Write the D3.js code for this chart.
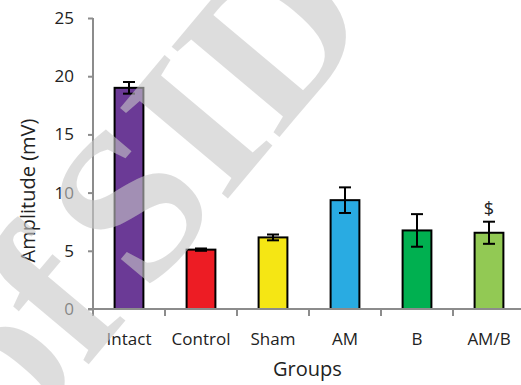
<!DOCTYPE html>
<html>
<head>
<meta charset="utf-8">
<script src="https://cdn.jsdelivr.net/npm/d3@7"></script>
<style>
  body { margin: 0; background: #fff; }
  text { font-family: "Open Sans", "Liberation Sans", sans-serif; fill: #222; }
</style>
</head>
<body>
<div id="chart"></div>
<script>
// chart data
const groups = ['Intact', 'Control', 'Sham', 'AM', 'B', 'AM/B']
const amplitude = [19.0, 5.1, 6.15, 9.35, 6.75, 6.55]
const errors = [0.5, 0.1, 0.25, 1.1, 1.4, 0.95]
const colors = ['#6b3a96', '#ed1c24', '#f5e614', '#29abe2', '#00b050', '#92c954']
const marks = ['', '', '', '', '', '$']
const yTicks = [0, 5, 10, 15, 20, 25]

const width = 521
const height = 385
const margin = { top: 18, right: -4, bottom: 76, left: 93 }

const svg = d3.select('#chart')
  .append('svg')
  .attr('width', width)
  .attr('height', height)

const g = svg.append('g')
  .attr('transform', 'translate(' + margin.left + ',' + margin.top + ')')

const innerW = width - margin.left - margin.right
const innerH = height - margin.top - margin.bottom

const x = d3.scaleBand()
  .domain(groups)
  .range([0, innerW])
  .paddingInner(0.6)
  .paddingOuter(0.3)

const y = d3.scaleLinear()
  .domain([0, 25])
  .range([innerH, 0])

// bars
g.selectAll('rect.bar')
  .data(groups)
  .join('rect')
  .attr('class', 'bar')
  .attr('x', d => x(d))
  .attr('width', x.bandwidth())
  .attr('y', (d, i) => y(amplitude[i]))
  .attr('height', (d, i) => y(0) - y(amplitude[i]))
  .attr('fill', (d, i) => colors[i])
  .attr('stroke', '#000')
  .attr('stroke-width', 2)

// error bars
const eb = g.selectAll('g.err')
  .data(groups)
  .join('g')
  .attr('class', 'err')
  .attr('transform', d => 'translate(' + (x(d) + x.bandwidth() / 2) + ',0)')

eb.append('line')
  .attr('y1', (d, i) => y(amplitude[i] + errors[i]))
  .attr('y2', (d, i) => y(amplitude[i] - errors[i]))
  .attr('stroke', '#000')
  .attr('stroke-width', 2)

eb.append('line')
  .attr('x1', -6).attr('x2', 6)
  .attr('y1', (d, i) => y(amplitude[i] + errors[i]))
  .attr('y2', (d, i) => y(amplitude[i] + errors[i]))
  .attr('stroke', '#000')
  .attr('stroke-width', 2)

eb.append('line')
  .attr('x1', -6).attr('x2', 6)
  .attr('y1', (d, i) => y(amplitude[i] - errors[i]))
  .attr('y2', (d, i) => y(amplitude[i] - errors[i]))
  .attr('stroke', '#000')
  .attr('stroke-width', 2)

eb.append('text')
  .text((d, i) => marks[i])
  .attr('y', (d, i) => y(amplitude[i] + errors[i]) - 7)
  .attr('text-anchor', 'middle')
  .style('font-size', '18px')

// y axis
g.append('g')
  .attr('class', 'y axis')
  .call(d3.axisLeft(y).tickValues(yTicks).tickSize(5).tickPadding(14))

// x axis with ticks between groups
const xAxis = g.append('g')
  .attr('class', 'x axis')
  .attr('transform', 'translate(0,' + innerH + ')')
  .call(d3.axisBottom(x).tickSize(0).tickPadding(24))

xAxis.selectAll('.sep')
  .data(groups)
  .join('line')
  .attr('class', 'sep')
  .attr('x1', d => x(d) - x.step() * x.paddingInner() / 2)
  .attr('x2', d => x(d) - x.step() * x.paddingInner() / 2)
  .attr('y1', 0)
  .attr('y2', 7)

svg.selectAll('.axis path, .axis line')
  .attr('stroke', '#8c8c8c')
  .attr('stroke-width', 2)
svg.selectAll('.axis text')
  .style('font-size', '17px')
  .style('fill', '#222')
svg.select('.y.axis path').attr('d', 'M0,0V' + innerH)
svg.select('.x.axis path').attr('d', 'M-5,0H' + innerW)

// labels
g.append('text')
  .text('Amplitude (mV)')
  .attr('transform', 'translate(' + (-58) + ',' + (innerH / 2 + 27) + ') rotate(-90)')
  .attr('text-anchor', 'middle')
  .style('font-size', '20px')

g.append('text')
  .text('Groups')
  .attr('x', x('Sham') + x.bandwidth() + 20)
  .attr('y', innerH + 67)
  .attr('text-anchor', 'middle')
  .style('font-size', '20px')

// watermark, semi-transparent over the chart
svg.append('text')
  .text('of SID')
  .attr('transform', 'translate(16,451) rotate(-50)')
  .style('font-family', '"Liberation Serif", serif')
  .style('font-weight', 'bold')
  .style('font-size', '215px')
  .style('word-spacing', '-30px')
  .style('fill', '#c8c8c8')
  .style('opacity', 0.6)
</script>
</body>
</html>
